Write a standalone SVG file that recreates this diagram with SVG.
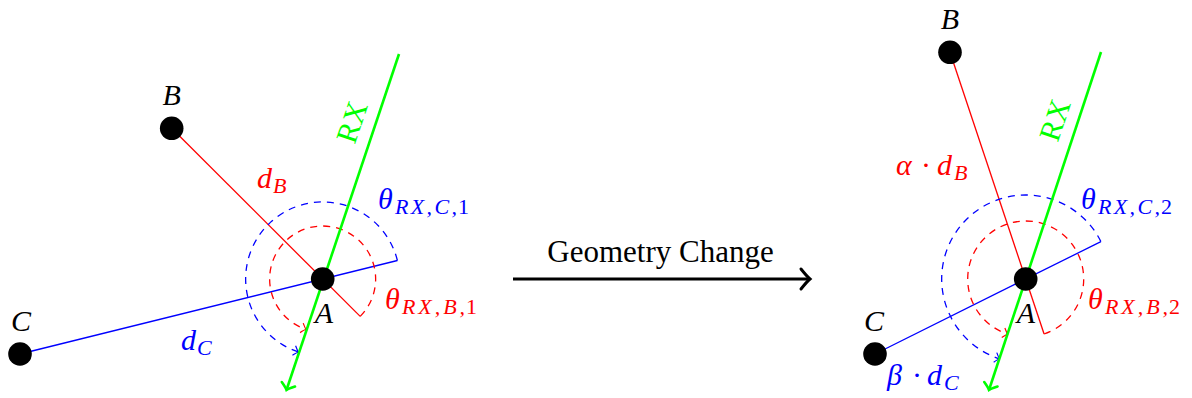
<svg xmlns="http://www.w3.org/2000/svg" width="1192" height="398" viewBox="0 0 1192 398">
<style>
.m{font-family:"Liberation Serif","DejaVu Serif",serif;font-style:italic;font-size:30px}
.s{font-size:22px}
.n{font-style:normal}
.up{font-family:"Liberation Serif","DejaVu Serif",serif;font-style:normal}
.red{fill:#ff0000}
.blue{fill:#0000ff}
.green{fill:#00ff00}
.lr{stroke:#ff0000;stroke-width:1.3;fill:none}
.lb{stroke:#0000ff;stroke-width:1.3;fill:none}
.dr{stroke:#ff0000;stroke-width:1.3;fill:none;stroke-dasharray:7 6}
.db{stroke:#0000ff;stroke-width:1.3;fill:none;stroke-dasharray:7 6}
.lg{stroke:#00ff00;stroke-width:2.6;fill:none}
.dot{fill:#000}
</style>
<defs>
<marker id="arR" markerUnits="userSpaceOnUse" orient="auto" markerWidth="10" markerHeight="10" refX="0" refY="0" overflow="visible"><path d="M-4.5,-5 Q-1.2,-1 0,0 Q-1.2,1 -4.5,5" stroke="#ff0000" stroke-width="1.2" fill="none"/></marker>
<marker id="arB" markerUnits="userSpaceOnUse" orient="auto" markerWidth="10" markerHeight="10" refX="0" refY="0" overflow="visible"><path d="M-4.5,-5 Q-1.2,-1 0,0 Q-1.2,1 -4.5,5" stroke="#0000ff" stroke-width="1.2" fill="none"/></marker>
<marker id="arG" markerUnits="userSpaceOnUse" orient="auto" markerWidth="16" markerHeight="16" refX="0" refY="0" overflow="visible"><path d="M-6,-7 Q-2,-1.5 0,0 Q-2,1.5 -6,7" stroke="#00ff00" stroke-width="2.6" fill="none" stroke-linecap="round"/></marker>
<marker id="arK" markerUnits="userSpaceOnUse" orient="auto" markerWidth="20" markerHeight="24" refX="0" refY="0" overflow="visible"><path d="M-9,-10 Q-3,-2.5 0,0 Q-3,2.5 -9,10" stroke="#000" stroke-width="3" fill="none" stroke-linecap="round"/></marker>
</defs>

<g id="connectors">
  <path id="l-dB" class="lr" d="M171.7,128.3 L360.2,316.4"/>
  <path id="l-dC" class="lb" d="M20,354 L397.4,260.5"/>
  <path id="l-arcC" class="db" d="M397.4,260.5 A77,77 0 1 0 298.3,352" marker-end="url(#arB)"/>
  <path id="l-arcB" class="dr" d="M360.2,316.4 A53,53 0 1 0 305.9,329.3" marker-end="url(#arR)"/>
  <path id="l-rx" class="lg" d="M399,54 L286.5,390" marker-end="url(#arG)"/>
  <path id="r-dB" class="lr" d="M950,52.3 L1044.1,334"/>
  <path id="r-dC" class="lb" d="M875,354 L1100.9,241.6"/>
  <path id="r-arcC" class="db" d="M1100.9,241.6 A84,84 0 1 0 999.5,358.8" marker-end="url(#arB)"/>
  <path id="r-arcB" class="dr" d="M1044.1,334 A58,58 0 1 0 1007.6,334.1" marker-end="url(#arR)"/>
  <path id="r-rx" class="lg" d="M1101,52 L989,390" marker-end="url(#arG)"/>
  <path id="change-arrow" d="M513,279 L810,279" stroke="#000" stroke-width="3.2" fill="none" marker-end="url(#arK)"/>
</g>

<g id="node-B-left"><circle class="dot" cx="171.7" cy="128.3" r="11.8"/><text class="m" x="171.7" y="105" text-anchor="middle">B</text></g>
<g id="node-C-left"><circle class="dot" cx="20" cy="354" r="11.8"/><text class="m" x="21" y="331" text-anchor="middle">C</text></g>
<g id="node-A-left"><circle class="dot" cx="322.7" cy="279" r="11.8"/><text class="m" x="324" y="323" text-anchor="middle">A</text></g>

<g id="node-B-right"><circle class="dot" cx="950" cy="52.3" r="11.8"/><text class="m" x="950" y="29" text-anchor="middle">B</text></g>
<g id="node-C-right"><circle class="dot" cx="875" cy="354" r="11.8"/><text class="m" x="874" y="331" text-anchor="middle">C</text></g>
<g id="node-A-right"><circle class="dot" cx="1025.7" cy="279" r="11.8"/><text class="m" x="1026" y="323" text-anchor="middle">A</text></g>

<g id="labels-left">
  <text class="m red" x="257" y="188">d<tspan class="s" x="273" y="193">B</tspan></text>
  <text class="m blue" x="181" y="350">d<tspan class="s" x="197" y="355">C</tspan></text>
  <text class="m blue" x="378" y="209">θ<tspan class="s" x="395" y="214" textLength="62" lengthAdjust="spacing">RX,C,</tspan><tspan class="s n" x="458" y="214">1</tspan></text>
  <text class="m red" x="385" y="309">θ<tspan class="s" x="402" y="314" textLength="63" lengthAdjust="spacing">RX,B,</tspan><tspan class="s n" x="466" y="314">1</tspan></text>
  <text class="up green" font-style="normal" font-size="30" x="352" y="132" text-anchor="middle" transform="rotate(-71.5 352 122)">RX</text>
</g>

<g id="labels-right">
  <text class="m red" x="896" y="175">α<tspan class="n" x="921">·</tspan><tspan x="937">d</tspan><tspan class="s" x="954" y="180">B</tspan></text>
  <text class="m blue" x="887" y="385">β<tspan class="n" x="912">·</tspan><tspan x="927">d</tspan><tspan class="s" x="944" y="390">C</tspan></text>
  <text class="m blue" x="1081" y="209">θ<tspan class="s" x="1098" y="214" textLength="62" lengthAdjust="spacing">RX,C,</tspan><tspan class="s n" x="1161" y="214">2</tspan></text>
  <text class="m red" x="1088" y="309">θ<tspan class="s" x="1105" y="314" textLength="63" lengthAdjust="spacing">RX,B,</tspan><tspan class="s n" x="1169" y="314">2</tspan></text>
  <text class="up green" font-style="normal" font-size="30" x="1055" y="130" text-anchor="middle" transform="rotate(-71.5 1055 120)">RX</text>
</g>

<g id="change-label">
  <text class="up" font-size="31" x="660.5" y="262" text-anchor="middle" fill="#000">Geometry Change</text>
</g>
</svg>
